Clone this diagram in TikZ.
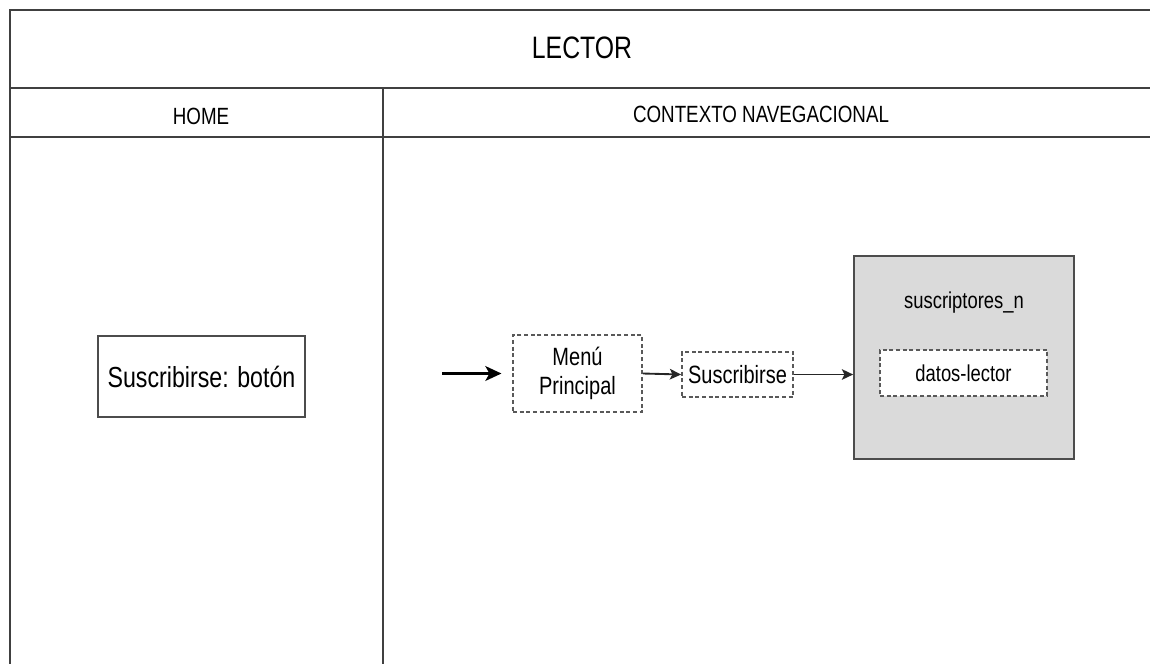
\documentclass[tikz,border=0pt]{standalone}
\usepackage{fontspec}
\setmainfont[FakeStretch=0.8]{Liberation Sans}
\usetikzlibrary{arrows.meta}

\tikzset{every picture/.style={line width=0.75pt}}
\tikzset{
  laneline/.style={draw=black!75, line width=1.6pt},
  plainbox/.style={draw=black!70, line width=1.3pt, fill=white, inner sep=0pt, align=center},
  dashbox/.style={draw=black!65, line width=1.3pt, dash pattern={on 3pt off 2pt}, fill=white, inner sep=0pt, align=center},
  flow/.style={-{Stealth[length=8.5pt,width=8pt,inset=2pt]}, draw=black!85, line width=1.4pt},
  bigflow/.style={-{Stealth[length=12pt,width=11pt,inset=3pt]}, draw=black, line width=2.2pt}
}

\begin{document}
\begin{tikzpicture}[x=0.75pt,y=0.75pt,yscale=-1,xscale=1]
\clip (0,0) rectangle (1150,664);

%Lanes
\draw  [laneline] (10,10) rectangle (1175,690) ;
\draw  [laneline] (10,88) -- (1175,88) ;
\draw  [laneline] (10,137) -- (1175,137) ;
\draw  [laneline] (383,88) -- (383,690) ;

% Text Node
\node [font=\fontsize{23.25}{28}\selectfont] (lector) at (582,48) {LECTOR};
% Text Node
\node [font=\fontsize{17.6}{21}\selectfont] (home) at (201,116) {HOME};
% Text Node
\node [font=\fontsize{17.6}{21}\selectfont] (contexto) at (761,114) {CONTEXTO NAVEGACIONAL};

%Shape: Rectangle
\node [plainbox, font=\fontsize{21.75}{26}\selectfont, minimum width=155.25pt, minimum height=60.75pt] (boton) at (201.5,376.5) {Suscribirse: botón};

%Dashed boxes
\node [dashbox, font=\fontsize{18.75}{21.5}\selectfont, minimum width=96.75pt, minimum height=57.75pt] (menu) at (577.5,373.5) {Menú\\Principal};
\node [dashbox, font=\fontsize{18.75}{22}\selectfont, minimum width=83.25pt, minimum height=33.75pt] (suscr) at (737.5,374.5) {Suscribirse};

%Shape: Rectangle (grey)
\node [plainbox, fill={rgb,255:red,218;green,218;blue,218}, minimum width=165pt, minimum height=152.25pt] (subs) at (964,357.5) {};
\node [font=\fontsize{17.25}{21}\selectfont] (subsname) at (964,303) {suscriptores\_n};
\node [dashbox, font=\fontsize{17.25}{21}\selectfont, minimum width=125.25pt, minimum height=34.5pt] (datos) at (963.5,373) {datos-lector};

%Arrows
\coordinate (entry) at (442,373.5);
\draw [bigflow, shorten >=8pt] (entry) -- (menu.west) ;
\draw [flow] (menu.east) -- (suscr.west) ;
\draw [flow] (suscr.east) -- (suscr.east -| subs.west) ;

\end{tikzpicture}
\end{document}
